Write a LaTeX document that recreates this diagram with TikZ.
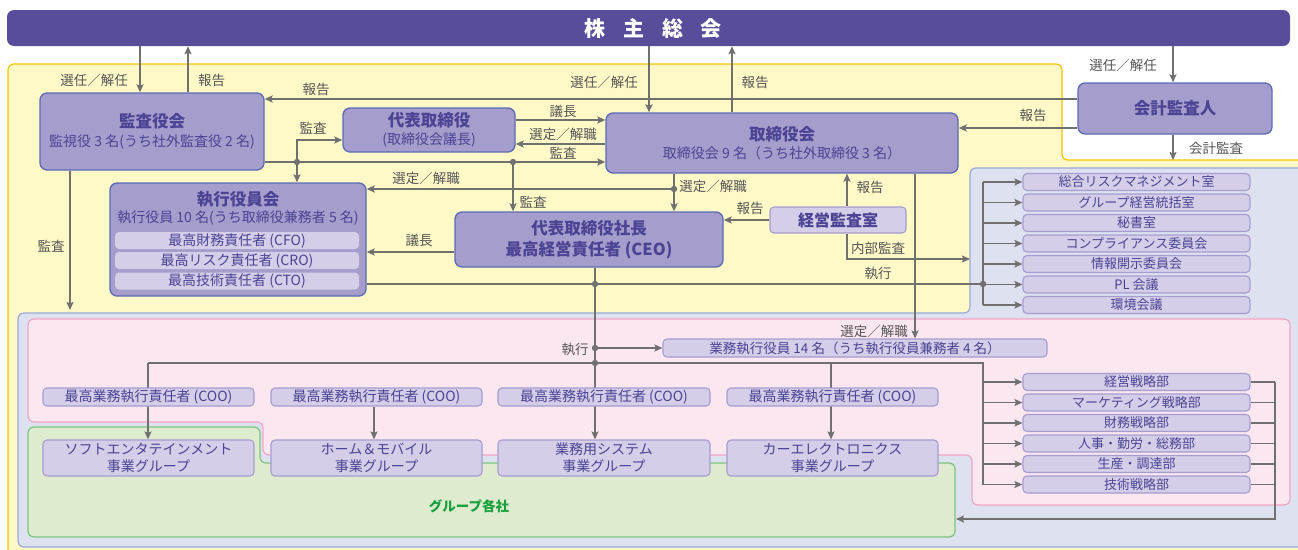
\documentclass[tikz,border=0pt]{standalone}
\usepackage{fontspec}
\setmainfont{Noto Sans CJK JP}
\usetikzlibrary{arrows.meta}
\definecolor{barc}{HTML}{584D9B}
\definecolor{yellowf}{HTML}{FFF9C8}
\definecolor{yellowb}{HTML}{F4C300}
\definecolor{lavf}{HTML}{DEE1EF}
\definecolor{lavb}{HTML}{9BAAD8}
\definecolor{pinkf}{HTML}{FBE7F0}
\definecolor{pinkb}{HTML}{F2A5C5}
\definecolor{greenf}{HTML}{DEEBCF}
\definecolor{greenb}{HTML}{7CC67C}
\definecolor{greent}{HTML}{18A03C}
\definecolor{bigfill}{HTML}{A59DCB}
\definecolor{bigborder}{HTML}{5B6BB6}
\definecolor{lightfill}{HTML}{D4CEE8}
\definecolor{lightborder}{HTML}{A69CD0}
\definecolor{txtc}{HTML}{4B4394}
\definecolor{linec}{HTML}{707070}
\definecolor{lblc}{HTML}{555555}
\newcommand\myfs[2]{\fontsize{#1}{#2}\selectfont}
\pgfdeclarelayer{bg}
\pgfdeclarelayer{ln}
\pgfsetlayers{bg,ln,main}
\begin{document}
\begin{tikzpicture}[x=1pt,y=-1pt,
 bigbox/.style={draw=bigborder, fill=bigfill, line width=1.3pt, rounded corners=7pt, text=txtc, align=center, inner sep=0pt},
 lightbox/.style={draw=lightborder, fill=lightfill, line width=1.1pt, rounded corners=4pt, text=txtc, align=center, inner sep=0pt, font=\myfs{13}{15}},
 subbox/.style={fill=lightfill, rounded corners=4pt, text=txtc, inner sep=0pt, font=\myfs{14}{15}},
 region/.style={line width=1.2pt, rounded corners=6pt},
 conn/.style={draw=linec, line width=1.7pt},
 arr/.style={conn, -{Stealth[length=8pt,width=7pt,inset=1.5pt]}},
 lbl/.style={text=lblc, inner sep=0pt, font=\myfs{13.5}{15}},
]
\useasboundingbox (0,0) rectangle (1298,549);

% ---------- background regions ----------
\begin{pgfonlayer}{bg}
\draw[region, fill=yellowf, draw=yellowb] (8,64) -- (1062,64) -- (1062,160) -- (1330,160) -- (1330,575) -- (8,575) -- cycle;
\draw[region, fill=lavf, draw=lavb] (970,168) -- (1330,168) -- (1330,547) -- (18,547) -- (18,313) -- (970,313) -- cycle;
\draw[region, fill=pinkf, draw=pinkb] (28,319) -- (1290,319) -- (1290,505) -- (972,505) -- (972,455) -- (263,455) -- (263,422) -- (28,422) -- cycle;
\draw[region, fill=greenf, draw=greenb] (28,427) -- (260,427) -- (260,463) -- (955,463) -- (955,537) -- (28,537) -- cycle;
\end{pgfonlayer}

% ---------- nodes ----------
\node[fill=barc, rounded corners=7pt, minimum width=1283pt, minimum height=36pt, inner sep=0pt, text=white, font=\myfs{21}{24}\bfseries] (soukai) at (648.5,28)
 {\hspace{9pt}株\hspace{18pt}主\hspace{18pt}総\hspace{18pt}会};

\node[bigbox, minimum width=224pt, minimum height=77pt] (kansa) at (152,131.5)
 {{\myfs{16.5}{20}\bfseries 監査役会}\\[4pt]{\myfs{14}{15}監視役 3 名(うち社外監査役 2 名)}};
\node[bigbox, minimum width=172pt, minimum height=44pt] (daihyo) at (429,130)
 {{\myfs{16.5}{20}\bfseries 代表取締役}\\[3pt]{\myfs{14}{15}(取締役会議長)}};
\node[bigbox, minimum width=352pt, minimum height=60pt] (tori) at (782,143)
 {{\myfs{16.5}{20}\bfseries 取締役会}\\[3pt]{\myfs{14}{15}取締役会 9 名（うち社外取締役 3 名）}};
\node[bigbox, minimum width=194pt, minimum height=51pt, font=\myfs{16.5}{20}\bfseries] (kaikei) at (1175,108.5) {会計監査人};
\node[bigbox, minimum width=256pt, minimum height=113pt] (shikko) at (238,239.5) {};
\node[text=txtc, align=center, inner sep=0pt] (shikkot) at (238,208)
 {{\myfs{16.5}{20}\bfseries 執行役員会}\\[2pt]{\myfs{14}{15}執行役員 10 名(うち取締役兼務者 5 名)}};
\node[subbox, minimum width=244pt, minimum height=17pt] (cfo) at (237,240.5) {最高財務責任者 (CFO)};
\node[subbox, minimum width=244pt, minimum height=17pt] (cro) at (237,260.5) {最高リスク責任者 (CRO)};
\node[subbox, minimum width=244pt, minimum height=17pt] (cto) at (237,281) {最高技術責任者 (CTO)};
\node[bigbox, minimum width=268pt, minimum height=55pt, font=\myfs{16.5}{21}\bfseries] (ceo) at (589,239.5)
 {代表取締役社長\\最高経営責任者 (CEO)};
\node[lightbox, minimum width=136pt, minimum height=26pt, font=\myfs{16}{18}\bfseries] (keiei) at (838,220) {経営監査室};

\foreach \t [count=\i] in {総合リスクマネジメント室, グループ経営統括室, 秘書室, コンプライアンス委員会, 情報開示委員会, PL 会議, 環境会議}
 \node[lightbox, minimum width=227pt, minimum height=17pt] (s\i) at (1136.5,161.5+20.5*\i) {\t};
\foreach \t [count=\i] in {経営戦略部, マーケティング戦略部, 財務戦略部, 人事・勤労・総務部, 生産・調達部, 技術戦略部}
 \node[lightbox, minimum width=227pt, minimum height=17pt] (d\i) at (1136.5,361.5+20.5*\i) {\t};

\node[lightbox, minimum width=384pt, minimum height=18pt, font=\myfs{13.5}{15}] (gyomu) at (855,348) {業務執行役員 14 名（うち執行役員兼務者 4 名）};

\node[lightbox, minimum width=211pt, minimum height=18pt, font=\myfs{14}{15}] (coo1) at (148.5,397) {最高業務執行責任者 (COO)};
\node[lightbox, minimum width=211pt, minimum height=18pt, font=\myfs{14}{15}] (coo2) at (376.5,397) {最高業務執行責任者 (COO)};
\node[lightbox, minimum width=212pt, minimum height=18pt, font=\myfs{14}{15}] (coo3) at (604,397) {最高業務執行責任者 (COO)};
\node[lightbox, minimum width=211pt, minimum height=18pt, font=\myfs{14}{15}] (coo4) at (832.5,397) {最高業務執行責任者 (COO)};

\node[lightbox, minimum width=211pt, minimum height=36pt, font=\myfs{14}{17}] (g1) at (148.5,458) {ソフトエンタテインメント\\事業グループ};
\node[lightbox, minimum width=211pt, minimum height=36pt, font=\myfs{14}{17}] (g2) at (376.5,458) {ホーム＆モバイル\\事業グループ};
\node[lightbox, minimum width=212pt, minimum height=36pt, font=\myfs{14}{17}] (g3) at (604,458) {業務用システム\\事業グループ};
\node[lightbox, minimum width=211pt, minimum height=36pt, font=\myfs{14}{17}] (g4) at (832.5,458) {カーエレクトロニクス\\事業グループ};

\node[text=greent, inner sep=0pt, font=\myfs{13.5}{15}\bfseries] (grp) at (469,506) {グループ各社};

% ---------- junctions ----------
\coordinate (j1) at (297,162);
\coordinate (j2) at (513,162);
\coordinate (j3) at (674,189);
\coordinate (j4) at (595,284);
\coordinate (j5) at (983,284);
\coordinate (j6) at (595,348);
\coordinate (j7) at (595,363);
\coordinate (b1) at (148,363);
\coordinate (b2) at (983,363);
\coordinate (b4) at (831,363);
\coordinate (kaikeiend) at (1173,160);
\coordinate (kansaend) at (70,310);
\coordinate (naibu) at (970,259);
\coordinate (greenR) at (956,519);

% ---------- connectors ----------
\begin{pgfonlayer}{ln}
\draw[arr] (140,0 |- soukai.south) -- (140,0 |- kansa.north);
\draw[arr] (188,0 |- kansa.north) -- (188,0 |- soukai.south);
\draw[arr] (649,0 |- soukai.south) -- (649,0 |- tori.north);
\draw[arr] (732,0 |- tori.north) -- (732,0 |- soukai.south);
\draw[arr] (1173,0 |- soukai.south) -- (1173,0 |- kaikei.north);
\draw[arr] (1173,0 |- kaikei.south) -- (kaikeiend);
\draw[arr] (0,99 -| kaikei.west) -- (0,99 -| kansa.east);
\draw[arr] (0,128 -| kaikei.west) -- (0,128 -| tori.east);
\draw[arr] (0,120 -| daihyo.east) -- (0,120 -| tori.west);
\draw[arr] (0,144 -| tori.west) -- (0,144 -| daihyo.east);
\draw[arr] (0,162 -| kansa.east) -- (0,162 -| tori.west);
\draw[arr] (j1) -- (297,140) -- (0,140 -| daihyo.west);
\draw[arr] (j1) -- (j1 |- shikko.north);
\draw[arr] (j2) -- (j2 |- ceo.north);
\draw[arr] (674,0 |- tori.south) -- (674,0 |- ceo.north);
\draw[arr] (j3) -- (j3 -| shikko.east);
\draw[arr] (0,252 -| ceo.west) -- (0,252 -| shikko.east);
\draw[arr] (keiei.west) -- (keiei.west -| ceo.east);
\draw[arr] (847,0 |- keiei.north) -- (847,0 |- tori.south);
\draw[arr] (847,0 |- keiei.south) -- (847,259) -- (naibu);
\draw[conn] (0,284 -| shikko.east) -- (j5);
\draw[conn] (983,0 |- s1.west) -- (983,0 |- s7.west);
\foreach \i in {1,...,7} \draw[arr] (983,0 |- s\i.west) -- (s\i.west);
\draw[arr] (70,0 |- kansa.south) -- (kansaend);
\draw[arr] (915,0 |- tori.south) -- (915,0 |- gyomu.north);
\draw[arr] (595,0 |- ceo.south) -- (595,0 |- g3.north);
\draw[arr] (j6) -- (j6 -| gyomu.west);
\draw[conn] (b1) -- (b2) -- (983,0 |- d6.west);
\foreach \i in {1,...,6} \draw[arr] (983,0 |- d\i.west) -- (d\i.west);
\draw[arr] (b1) -- (b1 |- g1.north);
\draw[arr] (374,0 |- coo2.south) -- (374,0 |- g2.north);
\draw[arr] (b4) -- (b4 |- g4.north);
\foreach \i in {1,...,6} \draw[conn] (d\i.east) -- (1275,0 |- d\i.east);
\draw[arr] (1275,0 |- d1.east) -- (1275,0 |- greenR) -- (greenR);
\foreach \p in {j1,j2,j3,j4,j5,j6,j7} \fill[linec] (\p) circle (3.2pt);
\end{pgfonlayer}

% ---------- labels ----------
\node[lbl] (l1) at (94,80) {選任／解任};
\node[lbl] (l2) at (211.5,80) {報告};
\node[lbl] (l3) at (604,82) {選任／解任};
\node[lbl] (l4) at (755,82) {報告};
\node[lbl] (l5) at (1123,65) {選任／解任};
\node[lbl] (l6) at (1216,148) {会計監査};
\node[lbl] (l7) at (316,89) {報告};
\node[lbl] (l8) at (1033,115) {報告};
\node[lbl] (l9) at (563,111) {議長};
\node[lbl] (l10) at (563,134) {選定／解職};
\node[lbl] (l11) at (563,153) {監査};
\node[lbl] (l12) at (313,128) {監査};
\node[lbl] (l13) at (533,202) {監査};
\node[lbl] (l14) at (713,186) {選定／解職};
\node[lbl] (l15) at (426,178) {選定／解職};
\node[lbl] (l16) at (419,240) {議長};
\node[lbl] (l17) at (750,208) {報告};
\node[lbl] (l18) at (870,187) {報告};
\node[lbl] (l19) at (878,248) {内部監査};
\node[lbl] (l20) at (878,273) {執行};
\node[lbl] (l21) at (51,246) {監査};
\node[lbl] (l22) at (874,331) {選定／解職};
\node[lbl] (l23) at (575,349) {執行};
\end{tikzpicture}
\end{document}
